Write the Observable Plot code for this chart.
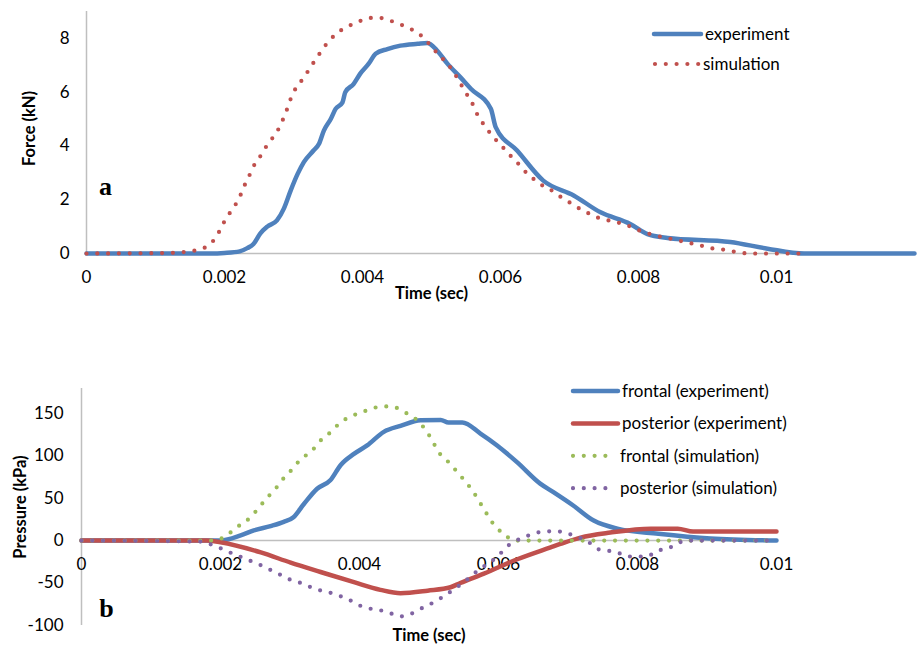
<!DOCTYPE html>
<html><head><meta charset="utf-8">
<script src="https://cdn.jsdelivr.net/npm/d3@7"></script>
<script src="https://cdn.jsdelivr.net/npm/@observablehq/plot@0.6"></script>
<style>
body{margin:0;background:#fff;}
#wrap{position:relative;width:917px;height:646px;overflow:hidden;}
#wrap > svg{position:absolute;left:0;}
</style></head><body><div id="wrap"></div>
<script>
// ---------- Panel a: Force vs time ----------
const forceTicks = [0, 2, 4, 6, 8];
const timeTicksA = [0, 0.002, 0.004, 0.006, 0.008, 0.01];
const timeLabelsA = ["0", "0.002", "0.004", "0.006", "0.008", "0.01"];
const legendA = ["experiment", "simulation"];

const expT = [0, 0.0018, 0.002, 0.00222, 0.00233, 0.00242, 0.00252, 0.00262, 0.00276, 0.00286, 0.00296, 0.00306, 0.00315, 0.00329, 0.00337, 0.00344, 0.00354, 0.00361, 0.00371, 0.00375, 0.00387, 0.00397, 0.00409, 0.00419, 0.00436, 0.00455, 0.0048, 0.00494, 0.00508, 0.00523, 0.00542, 0.00557, 0.00586, 0.00593, 0.00624, 0.00662, 0.00706, 0.00745, 0.00788, 0.00813, 0.00842, 0.00933, 0.00987, 0.0104, 0.012];
const expF = [0, 0, 0.02, 0.08, 0.2, 0.35, 0.75, 1.0, 1.23, 1.67, 2.35, 2.96, 3.4, 3.83, 4.08, 4.57, 5.0, 5.38, 5.62, 6.0, 6.3, 6.7, 7.06, 7.43, 7.6, 7.73, 7.8, 7.83, 7.55, 7.06, 6.55, 6.13, 5.38, 4.7, 3.83, 2.71, 2.16, 1.53, 1.1, 0.72, 0.58, 0.43, 0.18, 0, 0];

const simT = [0, 0.0012, 0.00139, 0.00155, 0.0017, 0.00183, 0.00192, 0.00199, 0.00207, 0.00216, 0.00223, 0.00229, 0.00236, 0.00242, 0.00251, 0.00259, 0.00268, 0.00277, 0.00284, 0.0029, 0.00295, 0.00301, 0.0031, 0.00319, 0.00328, 0.00337, 0.00345, 0.00355, 0.00367, 0.0038, 0.00395, 0.00409, 0.00425, 0.0044, 0.00454, 0.00468, 0.00482, 0.00493, 0.00503, 0.00514, 0.00525, 0.00541, 0.00549, 0.00558, 0.00564, 0.00572, 0.00581, 0.0059, 0.00601, 0.00612, 0.00623, 0.00633, 0.00644, 0.00656, 0.0067, 0.00682, 0.00696, 0.00709, 0.00723, 0.00736, 0.00752, 0.00766, 0.00781, 0.00796, 0.00811, 0.00826, 0.0084, 0.00856, 0.00871, 0.00887, 0.00902, 0.00917, 0.00932, 0.00948, 0.00963, 0.0104];
const simF = [0, 0.02, 0.05, 0.1, 0.2, 0.45, 0.8, 1.15, 1.48, 1.82, 2.16, 2.53, 2.9, 3.24, 3.58, 3.92, 4.24, 4.57, 4.94, 5.32, 5.69, 6.04, 6.37, 6.7, 7.06, 7.4, 7.7, 8.0, 8.27, 8.46, 8.63, 8.76, 8.76, 8.66, 8.53, 8.37, 8.17, 7.9, 7.6, 7.3, 7.0, 6.37, 6.0, 5.65, 5.29, 4.94, 4.61, 4.32, 4.02, 3.7, 3.42, 3.12, 2.86, 2.6, 2.42, 2.19, 1.97, 1.75, 1.56, 1.38, 1.26, 1.17, 1.08, 0.91, 0.77, 0.66, 0.58, 0.5, 0.4, 0.33, 0.2, 0.17, 0.1, 0.03, 0, 0];

// ---------- Panel b: Pressure vs time ----------
const pressureTicks = [-100, -50, 0, 50, 100, 150];
const timeTicksB = [0, 0.002, 0.004, 0.006, 0.008, 0.01];
const timeLabelsB = ["0", "0.002", "0.004", "0.006", "0.008", "0.01"];
const legendB = ["frontal (experiment)", "posterior (experiment)", "frontal (simulation)", "posterior (simulation)"];

const frontExpT = [0, 0.0018, 0.002, 0.00229, 0.00248, 0.00272, 0.00291, 0.00305, 0.0032, 0.00339, 0.00358, 0.00373, 0.00392, 0.00411, 0.00435, 0.00459, 0.00488, 0.00517, 0.00528, 0.00548, 0.00574, 0.00598, 0.00627, 0.0066, 0.00679, 0.00708, 0.00737, 0.00771, 0.0083, 0.00905, 0.01];
const frontExpP = [0, 0, 0, 6, 12, 17, 22, 27.5, 43, 61, 71, 89, 102, 112, 128, 135, 141.5, 142, 139, 139, 126, 112, 92, 67, 57, 41, 23.5, 14, 8, 2.4, 0];

const postExpT = [0, 0.0018, 0.002, 0.00258, 0.00301, 0.00344, 0.00392, 0.0043, 0.00459, 0.00498, 0.00531, 0.00545, 0.00579, 0.00627, 0.00675, 0.00689, 0.00718, 0.00761, 0.00819, 0.00858, 0.0088, 0.01];
const postExpP = [0, 0, -2, -14, -26, -37, -49, -58, -62, -59, -55, -50, -39, -22, -8, -4, 3.5, 9.4, 14, 14, 10.6, 10.6];

const frontSimT = [0, 0.00186, 0.002, 0.00213, 0.00225, 0.00238, 0.00249, 0.00259, 0.00269, 0.0028, 0.00289, 0.003, 0.00309, 0.00321, 0.00333, 0.00343, 0.00355, 0.00366, 0.00378, 0.0039, 0.00405, 0.0042, 0.00435, 0.0045, 0.00465, 0.00478, 0.00489, 0.00498, 0.00506, 0.00513, 0.00525, 0.00535, 0.00545, 0.00555, 0.00564, 0.00572, 0.0058, 0.00588, 0.00598, 0.00609, 0.00623, 0.01];
const frontSimP = [0, 0, 2, 8.7, 16.5, 23.6, 32.7, 42.5, 52, 61.8, 71.6, 81, 90, 99, 107, 117, 125, 134, 142, 147, 151.5, 156, 158, 157, 151, 145, 136.5, 126.7, 115.7, 105, 95, 86, 76.5, 66.9, 57, 46.4, 35.8, 24.8, 14.6, 6.7, 0, 0];

const postSimT = [0, 0.00171, 0.00184, 0.00199, 0.00213, 0.00228, 0.00242, 0.00257, 0.00271, 0.00284, 0.00298, 0.00313, 0.00327, 0.00342, 0.00356, 0.00371, 0.00385, 0.00399, 0.00414, 0.00429, 0.00444, 0.00458, 0.00473, 0.00487, 0.005, 0.00514, 0.00526, 0.0054, 0.00553, 0.00564, 0.00577, 0.00588, 0.006, 0.00611, 0.00623, 0.00637, 0.00652, 0.00667, 0.00683, 0.00698, 0.00714, 0.00727, 0.00742, 0.00771, 0.00786, 0.008, 0.00814, 0.00829, 0.00843, 0.00856, 0.00871, 0.01];
const postSimP = [0, -1.2, -3.9, -8.7, -13.8, -18.9, -23.6, -28.7, -34.2, -39.4, -45.3, -49.2, -53.9, -58.3, -61, -65, -69.7, -76, -79.9, -81.9, -85.4, -89.3, -86.6, -80.7, -75.6, -69.3, -63, -55, -47.2, -39.4, -31.5, -25.6, -17.7, -7.9, -1.2, 3.9, 8.7, 10.6, 11, 8.7, 4, 0, -9.8, -14, -18.8, -18.8, -18.5, -11.8, -9.8, -3.9, 0, 0];

// ---------- styling ----------
const FONT = "Lato, 'Open Sans', sans-serif";
const FS = 17;
const C = {blue: "#4F81BD", red: "#C0504D", green: "#9BBB59", purple: "#8064A2", axis: "#BFBFBF", text: "#000"};
const SOLID = {strokeWidth: 4.5, strokeLinecap: "round", strokeLinejoin: "round", curve: "monotone-x"};
const DOTS = {strokeWidth: 4.2, strokeLinecap: "round", strokeDasharray: "0 10.8", curve: "monotone-x"};
const rows = (t, v) => t.map((x, i) => ({t: x, v: v[i]}));
const style = {fontFamily: FONT, fontSize: FS + "px", color: C.text, background: "transparent", overflow: "visible"};

// ---------- chart a ----------
const chartA = Plot.plot({
  width: 917, height: 300,
  marginTop: 11, marginBottom: 47, marginLeft: 86, marginRight: 3,
  style,
  x: {domain: [0, 0.012], axis: null},
  y: {domain: [0, 9], ticks: forceTicks, tickSize: 0, tickPadding: 17, label: null, tickFormat: d => String(d)},
  marks: [
    Plot.ruleX([0], {stroke: C.axis, strokeWidth: 1.5}),
    Plot.ruleY([0], {stroke: C.axis, strokeWidth: 1.5}),
    Plot.text(timeTicksA, {x: d => d, y: 0, text: (d, i) => timeLabelsA[i], dy: 24, fill: C.text}),
    Plot.text(["Time (sec)"], {text: d => d, frameAnchor: "bottom", textAnchor: "middle", lineAnchor: "middle", dx: -69, dy: 40, fontWeight: "bold", fontSize: 16.5}),
    Plot.text(["Force (kN)"], {text: d => d, frameAnchor: "left", textAnchor: "middle", lineAnchor: "middle", rotate: -90, dx: -57, dy: -4, fontWeight: "bold", fontSize: 16.5}),
    Plot.text(["a"], {text: d => d, frameAnchor: "top-left", textAnchor: "middle", lineAnchor: "middle", dx: 19, dy: 175, fontWeight: "bold", fontSize: 26, fontFamily: "'Liberation Serif', serif"}),
    Plot.line(rows(expT, expF), {x: "t", y: "v", stroke: C.blue, ...SOLID}),
    Plot.line(rows(simT, simF), {x: "t", y: "v", stroke: C.red, ...DOTS})
  ]
});

// ---------- chart b ----------
const chartB = Plot.plot({
  width: 917, height: 316,
  marginTop: 58, marginBottom: 21, marginLeft: 81, marginRight: 141,
  style,
  x: {domain: [0, 0.01], axis: null},
  y: {domain: [-100, 179], ticks: pressureTicks, tickSize: 0, tickPadding: 18, label: null, tickFormat: d => String(d)},
  marks: [
    Plot.ruleX([0], {stroke: C.axis, strokeWidth: 1.5}),
    Plot.ruleY([0], {stroke: C.axis, strokeWidth: 1.5}),
    Plot.text(timeTicksB, {x: d => d, y: 0, text: (d, i) => timeLabelsB[i], dy: 24, fill: C.text}),
    Plot.text(["Time (sec)"], {text: d => d, frameAnchor: "bottom", textAnchor: "middle", lineAnchor: "middle", dx: 0, dy: 10, fontWeight: "bold", fontSize: 16.5}),
    Plot.text(["Pressure (kPa)"], {text: d => d, frameAnchor: "left", textAnchor: "middle", lineAnchor: "middle", rotate: -90, dx: -61, dy: 0, fontWeight: "bold", fontSize: 16.5}),
    Plot.text(["b"], {text: d => d, frameAnchor: "top-left", textAnchor: "middle", lineAnchor: "middle", dx: 25, dy: 220, fontWeight: "bold", fontSize: 26, fontFamily: "'Liberation Serif', serif"}),
    Plot.line(rows(frontExpT, frontExpP), {x: "t", y: "v", stroke: C.blue, ...SOLID}),
    Plot.line(rows(postExpT, postExpP), {x: "t", y: "v", stroke: C.red, ...SOLID}),
    Plot.line(rows(frontSimT, frontSimP), {x: "t", y: "v", stroke: C.green, ...DOTS}),
    Plot.line(rows(postSimT, postSimP), {x: "t", y: "v", stroke: C.purple, ...DOTS})
  ]
});

const wrap = document.getElementById("wrap");
chartA.style.top = "0px";
chartB.style.top = "330px";
wrap.appendChild(chartA);
wrap.appendChild(chartB);

// ---------- legends ----------
const leg = d3.select(wrap).append("svg")
  .attr("width", 917).attr("height", 646)
  .style("position", "absolute").style("left", "0px").style("top", "0px")
  .style("font-family", FONT).style("font-size", FS + "px");

function legendRow(label, color, dotted, x1, x2, y) {
  leg.append("line").attr("x1", x1).attr("x2", x2).attr("y1", y).attr("y2", y)
    .attr("stroke", color)
    .attr("stroke-width", dotted ? 4.2 : 4.5)
    .attr("stroke-linecap", "round")
    .attr("stroke-dasharray", dotted ? "0 10.8" : null);
  leg.append("text").attr("x", x2 + 4).attr("y", y).attr("dy", "0.35em").attr("fill", C.text).text(label);
}
const styleA = [[C.blue, false], [C.red, true]];
legendA.forEach((s, i) => legendRow(s, styleA[i][0], styleA[i][1], i ? 655 : 654, i ? 699 : 701, 34 + i * 30));
const styleB = [[C.blue, false], [C.red, false], [C.green, true], [C.purple, true]];
legendB.forEach((s, i) => legendRow(s, styleB[i][0], styleB[i][1], 573, styleB[i][1] ? 616 : 618, 391 + i * 32.4));
</script></body></html>
